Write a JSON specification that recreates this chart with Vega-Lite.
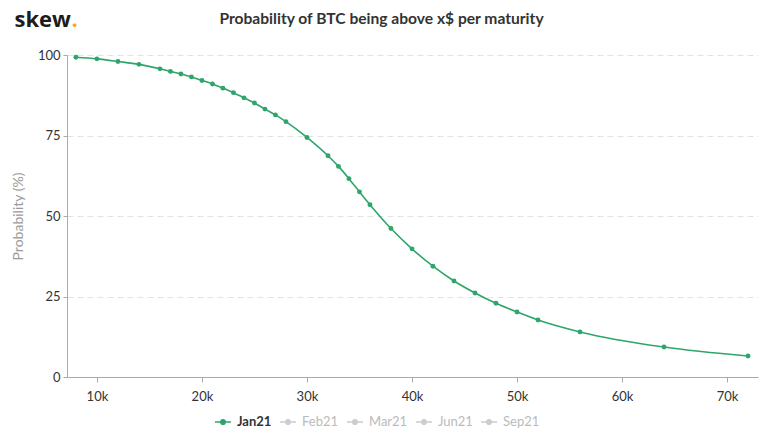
{
  "$schema": "https://vega.github.io/schema/vega-lite/v6.json",
  "width": 691,
  "height": 322,
  "autosize": {"type": "none"},
  "padding": {"left": 67, "top": 55, "right": 18, "bottom": 58},
  "background": "white",
  "config": {"font": "Lato", "view": {"stroke": null}},
  "title": {
    "text": "Probability of BTC being above x$ per maturity",
    "font": "Lato",
    "fontSize": 15.6,
    "fontWeight": "bold",
    "color": "#333333",
    "anchor": "middle",
    "frame": "group",
    "dx": -31,
    "offset": 0,
    "dy": 20
  },
  "data": {
    "values": [
      {"strike": 8000, "prob": 99.3, "maturity": "Jan21"},
      {"strike": 10000, "prob": 98.8, "maturity": "Jan21"},
      {"strike": 12000, "prob": 98.0, "maturity": "Jan21"},
      {"strike": 14000, "prob": 97.1, "maturity": "Jan21"},
      {"strike": 16000, "prob": 95.7, "maturity": "Jan21"},
      {"strike": 17000, "prob": 94.9, "maturity": "Jan21"},
      {"strike": 18000, "prob": 94.1, "maturity": "Jan21"},
      {"strike": 19000, "prob": 93.2, "maturity": "Jan21"},
      {"strike": 20000, "prob": 92.1, "maturity": "Jan21"},
      {"strike": 21000, "prob": 91.0, "maturity": "Jan21"},
      {"strike": 22000, "prob": 89.7, "maturity": "Jan21"},
      {"strike": 23000, "prob": 88.3, "maturity": "Jan21"},
      {"strike": 24000, "prob": 86.7, "maturity": "Jan21"},
      {"strike": 25000, "prob": 85.1, "maturity": "Jan21"},
      {"strike": 26000, "prob": 83.2, "maturity": "Jan21"},
      {"strike": 27000, "prob": 81.4, "maturity": "Jan21"},
      {"strike": 28000, "prob": 79.3, "maturity": "Jan21"},
      {"strike": 30000, "prob": 74.4, "maturity": "Jan21"},
      {"strike": 32000, "prob": 68.7, "maturity": "Jan21"},
      {"strike": 33000, "prob": 65.4, "maturity": "Jan21"},
      {"strike": 34000, "prob": 61.6, "maturity": "Jan21"},
      {"strike": 35000, "prob": 57.5, "maturity": "Jan21"},
      {"strike": 36000, "prob": 53.5, "maturity": "Jan21"},
      {"strike": 38000, "prob": 46.1, "maturity": "Jan21"},
      {"strike": 40000, "prob": 39.8, "maturity": "Jan21"},
      {"strike": 42000, "prob": 34.4, "maturity": "Jan21"},
      {"strike": 44000, "prob": 29.8, "maturity": "Jan21"},
      {"strike": 46000, "prob": 26.1, "maturity": "Jan21"},
      {"strike": 48000, "prob": 22.9, "maturity": "Jan21"},
      {"strike": 50000, "prob": 20.2, "maturity": "Jan21"},
      {"strike": 52000, "prob": 17.7, "maturity": "Jan21"},
      {"strike": 56000, "prob": 14.0, "maturity": "Jan21"},
      {"strike": 64000, "prob": 9.3, "maturity": "Jan21"},
      {"strike": 72000, "prob": 6.5, "maturity": "Jan21"}
    ]
  },
  "layer": [
    {
      "mark": {"type": "line", "interpolate": "monotone", "strokeWidth": 1.6},
      "encoding": {
        "x": {
          "field": "strike",
          "type": "quantitative",
          "scale": {"domain": [7150, 72950], "nice": false, "zero": false},
          "axis": {
            "orient": "bottom",
            "title": null,
            "values": [10000, 20000, 30000, 40000, 50000, 60000, 70000],
            "format": "~s",
            "labelFont": "Lato",
            "labelFontSize": 13,
            "labelColor": "#333333",
            "labelPadding": 8,
            "tickSize": 5,
            "tickColor": "#aaaaaa",
            "domainColor": "#aaaaaa",
            "grid": false
          }
        },
        "y": {
          "field": "prob",
          "type": "quantitative",
          "scale": {"domain": [0, 100], "nice": false},
          "axis": {
            "orient": "left",
            "title": "Probability (%)",
            "titleFont": "Lato",
            "titleFontSize": 14,
            "titleFontWeight": "normal",
            "titleColor": "#999999",
            "titlePadding": 12,
            "values": [0, 25, 50, 75, 100],
            "labelFont": "Lato",
            "labelFontSize": 13,
            "labelColor": "#333333",
            "labelPadding": 3,
            "tickSize": 4,
            "tickColor": "#aaaaaa",
            "domainColor": "#aaaaaa",
            "grid": true,
            "gridColor": "#e3e3e3",
            "gridDash": [6, 4]
          }
        },
        "color": {
          "field": "maturity",
          "type": "nominal",
          "scale": {
            "domain": ["Jan21", "Feb21", "Mar21", "Jun21", "Sep21"],
            "range": ["#2ea56b", "#cccccc", "#cccccc", "#cccccc", "#cccccc"]
          },
          "legend": {
            "orient": "none",
            "legendX": 147,
            "legendY": 358,
            "direction": "horizontal",
            "title": null,
            "symbolType": "M-1,0H1M-0.3,0A0.3,0.3,0,1,1,0.3,0A0.3,0.3,0,1,1,-0.3,0Z",
            "symbolSize": 256,
            "symbolStrokeWidth": 1.3,
            "labelFont": "Lato",
            "labelFontSize": 13,
            "labelOffset": 5,
            "columnPadding": 5,
            "encode": {
              "symbols": {
                "update": {
                  "fill": {"signal": "datum.value === 'Jan21' ? '#2ea56b' : '#cccccc'"},
                  "stroke": {"signal": "datum.value === 'Jan21' ? '#2ea56b' : '#cccccc'"},
                  "opacity": {"value": 1}
                }
              },
              "labels": {
                "update": {
                  "fill": {"signal": "datum.value === 'Jan21' ? '#333333' : '#bbbbbb'"},
                  "fontWeight": {"signal": "datum.value === 'Jan21' ? 'bold' : 'normal'"}
                }
              }
            }
          }
        }
      }
    },
    {
      "mark": {"type": "point", "filled": true, "size": 24, "opacity": 1},
      "encoding": {
        "x": {
          "field": "strike",
          "type": "quantitative",
          "axis": {
            "orient": "top",
            "title": "skew",
            "labels": false,
            "ticks": false,
            "domain": false,
            "grid": false,
            "titleFont": "Open Sans",
            "titleFontSize": 22,
            "titleFontWeight": "bold",
            "titleColor": "#1c1c1c",
            "titleAnchor": "start",
            "titleAlign": "left",
            "titleBaseline": "alphabetic",
            "titleX": -53,
            "titleY": -29
          }
        },
        "y": {
          "field": "prob",
          "type": "quantitative",
          "axis": {
            "orient": "right",
            "title": ".",
            "labels": false,
            "ticks": false,
            "domain": false,
            "grid": false,
            "titleFont": "Open Sans",
            "titleFontSize": 22,
            "titleFontWeight": "bold",
            "titleColor": "#f5a623",
            "titleAngle": 0,
            "titleAlign": "left",
            "titleBaseline": "alphabetic",
            "titleX": -687,
            "titleY": -29
          }
        },
        "color": {"field": "maturity", "type": "nominal", "legend": null}
      }
    }
  ],
  "resolve": {"axis": {"x": "independent", "y": "independent"}}
}
